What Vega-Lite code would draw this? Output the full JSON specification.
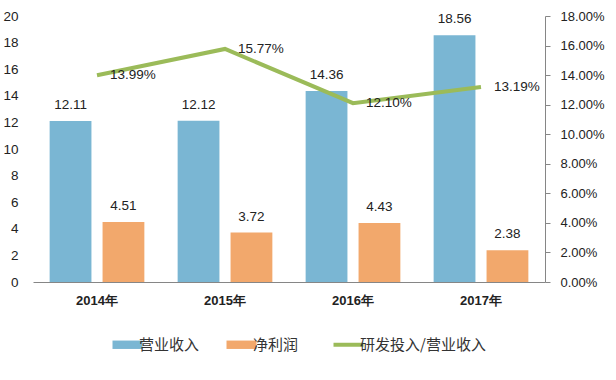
{
  "$schema": "https://vega.github.io/schema/vega-lite/v6.json",
  "width": 512,
  "height": 266,
  "autosize": {"type": "none"},
  "padding": {"left": 33, "top": 16, "right": 71, "bottom": 98},
  "background": "white",
  "config": {
    "view": {"stroke": null},
    "font": "Liberation Sans",
    "axis": {"grid": false, "labelColor": "#222222", "titleColor": "#222222"}
  },
  "data": {
    "values": [
      {"year": "2014年", "series": "营业收入", "value": 12.11},
      {"year": "2014年", "series": "净利润", "value": 4.51},
      {"year": "2014年", "series": "研发投入/营业收入", "value": 0.1399},
      {"year": "2015年", "series": "营业收入", "value": 12.12},
      {"year": "2015年", "series": "净利润", "value": 3.72},
      {"year": "2015年", "series": "研发投入/营业收入", "value": 0.1577},
      {"year": "2016年", "series": "营业收入", "value": 14.36},
      {"year": "2016年", "series": "净利润", "value": 4.43},
      {"year": "2016年", "series": "研发投入/营业收入", "value": 0.121},
      {"year": "2017年", "series": "营业收入", "value": 18.56},
      {"year": "2017年", "series": "净利润", "value": 2.38},
      {"year": "2017年", "series": "研发投入/营业收入", "value": 0.1319}
    ]
  },
  "encoding": {
    "x": {
      "field": "year",
      "type": "nominal",
      "sort": null,
      "scale": {"paddingInner": 0.26, "paddingOuter": 0.13},
      "axis": {
        "title": null,
        "labelAngle": 0,
        "ticks": false,
        "domainColor": "#868686",
        "domainWidth": 1,
        "labelPadding": 12,
        "labelFontSize": 13,
        "labelFontWeight": "bold",
        "labelFont": "Liberation Sans"
      }
    }
  },
  "layer": [
    {
      "transform": [{"filter": "datum.series !== '研发投入/营业收入'"}],
      "layer": [
        {
          "mark": {"type": "bar"},
          "encoding": {
            "xOffset": {"field": "series", "type": "nominal", "sort": ["营业收入", "净利润"], "scale": {"paddingInner": 0.21, "paddingOuter": 0}},
            "y": {
              "field": "value",
              "type": "quantitative",
              "scale": {"domain": [0, 20], "nice": false},
              "axis": {
                "title": null,
                "values": [0, 2, 4, 6, 8, 10, 12, 14, 16, 18, 20],
                "tickCount": 30,
                "format": "d",
                "labelOverlap": false,
                "labelFlush": false,
                "domain": false,
                "ticks": false,
                "labelPadding": 15,
                "labelFontSize": 13.5
              }
            },
            "color": {
              "field": "series",
              "type": "nominal",
              "scale": {
                "domain": ["营业收入", "净利润", "研发投入/营业收入"],
                "range": ["#7AB6D3", "#F2A86C", "#9BBB59"]
              },
              "legend": {
                "title": null,
                "orient": "none",
                "direction": "horizontal",
                "legendX": 87,
                "legendY": 321,
                "labelFont": "Noto Sans CJK SC",
                "labelFontSize": 15,
                "labelColor": "#333333",
                "labelOffset": 4,
                "columnPadding": 26,
                "symbolSize": 900,
                "encode": {
                  "symbols": {
                    "update": {
                      "shape": {"signal": "datum.value === '研发投入/营业收入' ? 'stroke' : 'M-1,-0.28H1V0.28H-1Z'"},
                      "fill": {"scale": "color", "field": "value"},
                      "stroke": {"scale": "color", "field": "value"},
                      "strokeWidth": {"signal": "datum.value === '研发投入/营业收入' ? 4 : 0"},
                      "fillOpacity": {"value": 1},
                      "opacity": {"value": 1}
                    }
                  }
                }
              }
            }
          }
        },
        {
          "mark": {"type": "text", "baseline": "bottom", "dy": -9, "fontSize": 13.5, "color": "#222222"},
          "encoding": {
            "xOffset": {"field": "series", "type": "nominal", "sort": ["营业收入", "净利润"]},
            "y": {"field": "value", "type": "quantitative"},
            "text": {"field": "value", "type": "quantitative", "format": ".2f"}
          }
        }
      ]
    },
    {
      "transform": [{"filter": "datum.series === '研发投入/营业收入'"}],
      "layer": [
        {
          "mark": {"type": "line", "strokeWidth": 4},
          "encoding": {
            "y": {
              "field": "value",
              "type": "quantitative",
              "scale": {"domain": [0, 0.18], "nice": false},
              "axis": {
                "title": null,
                "orient": "right",
                "format": ".2%",
                "values": [0, 0.02, 0.04, 0.06, 0.08, 0.1, 0.12, 0.14, 0.16, 0.18],
                "tickCount": 30,
                "labelOverlap": false,
                "labelFlush": false,
                "domainColor": "#868686",
                "tickColor": "#868686",
                "tickSize": 5,
                "labelPadding": 10,
                "labelFontSize": 13
              }
            },
            "color": {"field": "series", "type": "nominal"}
          }
        },
        {
          "mark": {"type": "text", "align": "left", "baseline": "middle", "dx": 13, "fontSize": 13.5, "color": "#222222"},
          "encoding": {
            "y": {"field": "value", "type": "quantitative"},
            "text": {"field": "value", "type": "quantitative", "format": ".2%"}
          }
        }
      ]
    }
  ],
  "resolve": {"scale": {"y": "independent"}}
}
